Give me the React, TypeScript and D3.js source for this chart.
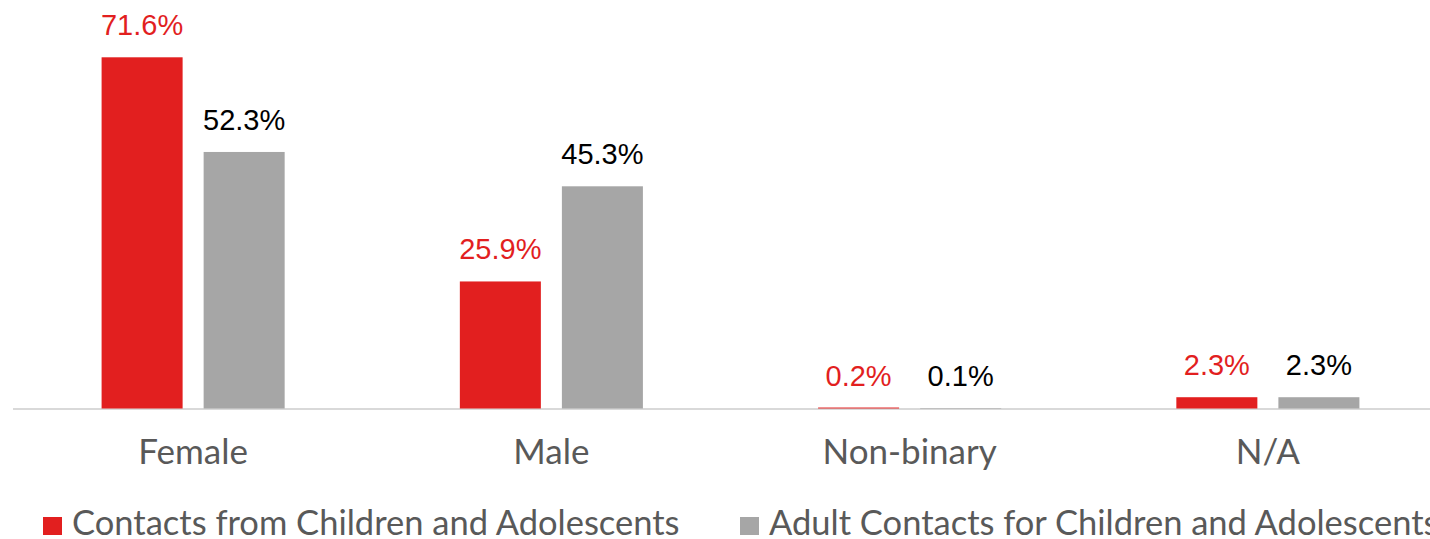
import React from "react";
import * as d3 from "d3";

const categories = ["Female", "Male", "Non-binary", "N/A"];
const seriesNames = ["Contacts from Children and Adolescents", "Adult Contacts for Children and Adolescents"];
const childrenValues = [71.6, 25.9, 0.2, 2.3];
const adultValues = [52.3, 45.3, 0.1, 2.3];
const seriesColors = ["#e21f1f", "#a6a6a6"];
const labelColors = ["#e21f1f", "#000000"];

const W = 1430;
const H = 539;
const plotLeft = 14;
const plotRight = 1447;
const baseline = 408.5;

export default function App() {
  const x = d3.scaleBand<string>().domain(categories).range([plotLeft, plotRight]).paddingInner(0.489).paddingOuter(0.2445);
  const xs = d3.scaleBand<number>().domain([0, 1]).range([0, x.bandwidth()]).paddingInner(0.206).paddingOuter(0);
  const y = d3.scaleLinear().domain([0, 71.6]).range([baseline, 57.3]);
  const series = [childrenValues, adultValues];

  return (
    <svg width={W} height={H} style={{ position: "absolute", left: 0, top: 0, background: "#fff" }}>
      <line x1={13} x2={W} y1={baseline + 0.5} y2={baseline + 0.5} stroke="#d9d9d9" strokeWidth={2} />
      {categories.map((c, i) => (
        <g key={c}>
          {series.map((vals, s) => {
            const bx = (x(c) as number) + (xs(s) as number);
            const by = y(vals[i]);
            return (
              <g key={s}>
                <rect x={bx} y={by} width={xs.bandwidth()} height={baseline - by} fill={seriesColors[s]} />
                <text
                  x={bx + xs.bandwidth() / 2}
                  y={by - 22}
                  textAnchor="middle"
                  fontFamily="'Liberation Sans', Arial, sans-serif"
                  fontSize={29}
                  fill={labelColors[s]}
                >
                  {vals[i].toFixed(1)}%
                </text>
              </g>
            );
          })}
          <text
            x={(x(c) as number) + x.bandwidth() / 2}
            y={464}
            textAnchor="middle"
            fontFamily="Lato, 'Open Sans', sans-serif"
            fontSize={35}
            fill="#595959"
          >
            {c}
          </text>
        </g>
      ))}
      {seriesNames.map((n, s) => {
        const lx = s === 0 ? 43 : 740;
        return (
          <g key={n}>
            <rect x={lx} y={517} width={19} height={18} fill={seriesColors[s]} />
            <text x={lx + 29} y={535} fontFamily="Lato, 'Open Sans', sans-serif" fontSize={34.5} fill="#595959">
              {n}
            </text>
          </g>
        );
      })}
    </svg>
  );
}
